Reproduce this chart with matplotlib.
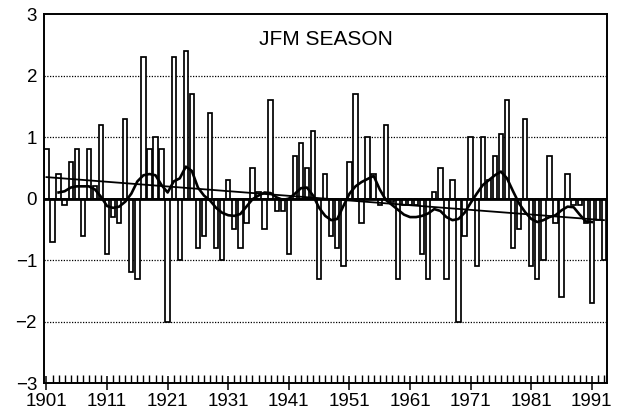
import matplotlib
matplotlib.use("Agg")
import matplotlib.pyplot as plt
import numpy as np

plt.rcParams['font.family'] = ['Liberation Sans', 'DejaVu Sans']

# JFM seasonal anomalies, 1901-1993
years = np.arange(1901, 1994)
anom = [
    0.8, -0.7, 0.4, -0.1, 0.6, 0.8, -0.6, 0.8, 0.2, 1.2,      # 1901-1910
    -0.9, -0.3, -0.4, 1.3, -1.2, -1.3, 2.3, 0.8, 1.0, 0.8,    # 1911-1920
    -2.0, 2.3, -1.0, 2.4, 1.7, -0.8, -0.6, 1.4, -0.8, -1.0,   # 1921-1930
    0.3, -0.5, -0.8, -0.4, 0.5, 0.1, -0.5, 1.6, -0.2, -0.2,   # 1931-1940
    -0.9, 0.7, 0.9, 0.5, 1.1, -1.3, 0.4, -0.6, -0.8, -1.1,    # 1941-1950
    0.6, 1.7, -0.4, 1.0, 0.4, -0.1, 1.2, -0.05, -1.3, -0.1,   # 1951-1960
    -0.1, -0.1, -0.9, -1.3, 0.1, 0.5, -1.3, 0.3, -2.0, -0.6,  # 1961-1970
    1.0, -1.1, 1.0, 0.3, 0.7, 1.05, 1.6, -0.8, -0.5, 1.3,     # 1971-1980
    -1.1, -1.3, -1.0, 0.7, -0.4, -1.6, 0.4, -0.1, -0.1, -0.4, # 1981-1990
    -1.7, -0.35, -1.0,                                        # 1991-1993
]

# smoothed curve, 1903-1991
smooth_years = np.arange(1903, 1992)
smooth = [
    0.1, 0.12, 0.18, 0.2, 0.2, 0.2, 0.15, 0.03,
    -0.12, -0.15, -0.13, -0.05, 0.08, 0.28, 0.38, 0.4, 0.38, 0.22,
    0.1, 0.28, 0.33, 0.52, 0.45, 0.18, 0.05, -0.03, -0.15, -0.23,
    -0.27, -0.28, -0.25, -0.13, -0.01, 0.05, 0.1, 0.09, 0.02, -0.02,
    0.0, 0.08, 0.17, 0.18, 0.05, -0.15, -0.28, -0.35, -0.33, -0.12,
    0.08, 0.2, 0.27, 0.32, 0.37, 0.15, -0.02, -0.1, -0.18, -0.26,
    -0.3, -0.3, -0.28, -0.24, -0.17, -0.2, -0.3, -0.35, -0.33, -0.23,
    -0.07, 0.08, 0.22, 0.3, 0.38, 0.44, 0.33, 0.12, -0.08, -0.22,
    -0.33, -0.38, -0.35, -0.3, -0.27, -0.19, -0.13, -0.14, -0.26, -0.37,
    -0.38,
]

# linear trend end points
trend_years = [1901, 1993]
trend = [0.35, -0.35]

fig = plt.figure(figsize=(6.2, 4.16), dpi=100)
ax = fig.add_axes([0.071, 0.079, 0.908, 0.887])

for g in (-2, -1, 1, 2):
    ax.axhline(g, color='black', lw=0.9, ls=(0, (1, 1.2)), zorder=1)

ax.bar(years, anom, width=0.72, color='white', edgecolor='black',
       linewidth=1.25, zorder=2)
ax.axhline(0, color='black', lw=2.0, zorder=3)
ax.plot(trend_years, trend, color='black', lw=1.3, zorder=4)
ax.plot(smooth_years, smooth, color='black', lw=1.9, zorder=5)

ax.text(0.5, 0.93, 'JFM SEASON', transform=ax.transAxes, ha='center',
        va='center', fontsize=15)

ax.set_xlim(1900.6, 1993.5)
ax.set_ylim(-3, 3)
ax.set_yticks(range(-3, 4))
ax.set_xticks(range(1901, 1992, 10))
ax.set_xticks(range(1901, 1994), minor=True)
ax.tick_params(axis='x', which='major', direction='inout', length=10,
               width=1.1, labelsize=13.5, pad=2)
ax.tick_params(axis='x', which='minor', direction='in', length=6, width=1.0)
ax.tick_params(axis='y', length=0, labelsize=13.5, pad=5)

for s in ax.spines.values():
    s.set_linewidth(1.4)

fig.savefig('out.png', dpi=100)
